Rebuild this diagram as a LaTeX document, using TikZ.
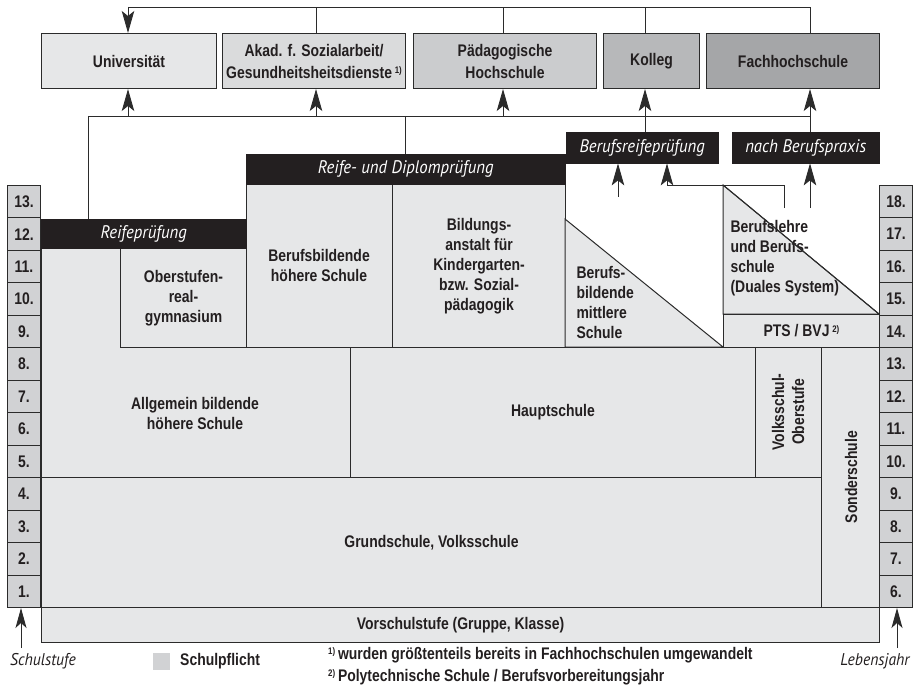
\documentclass[tikz,border=0pt]{standalone}
\usepackage{fontspec}
\setmainfont{Liberation Sans}[FakeStretch=0.83]
\newfontfamily\itfont{PT Sans}[FakeStretch=0.92]
\usetikzlibrary{arrows.meta}
\definecolor{mainfill}{HTML}{E6E7E8}
\definecolor{numfill}{HTML}{D1D2D4}
\definecolor{akadfill}{HTML}{DADBDC}
\definecolor{paedfill}{HTML}{CBCCCE}
\definecolor{kollfill}{HTML}{B7B8BA}
\definecolor{fhfill}{HTML}{A5A6A8}
\definecolor{barblack}{HTML}{231F20}
\definecolor{linec}{HTML}{2B2B2B}
\definecolor{textc}{HTML}{231F20}
\newcommand\fnm[1]{\raisebox{0.55ex}{\fontsize{9.5}{10}\selectfont #1}}
\begin{document}
\begin{tikzpicture}[x=1pt,y=-1pt,
  txt/.style={font=\bfseries\fontsize{16.8}{20}\selectfont, align=center, text=textc},
  box/.style={txt, draw=linec, line width=1pt, fill=mainfill, inner sep=0pt, anchor=north west},
  topbox/.style={box, font=\bfseries\fontsize{16.8}{22}\selectfont},
  num/.style={box, fill=numfill, minimum width=33pt, minimum height=32.46pt},
  bar/.style={fill=barblack, draw=barblack, text=white, font=\itfont\itshape\fontsize{18.2}{20}\selectfont, inner sep=0pt, anchor=north west},
  conn/.style={draw=linec, line width=0.9pt},
  arr/.style={conn, -{Stealth[length=22pt,width=12.5pt,inset=5pt]}},
  sarr/.style={conn, -{Stealth[length=20pt,width=11pt,inset=5pt]}},
  lbl/.style={font=\itfont\itshape\fontsize{17}{20}\selectfont, text=textc},
  region/.style={draw=linec, line width=1pt, fill=mainfill}]
\useasboundingbox (0,0) rectangle (923,695);

% ---- top boxes ----
\node[topbox, minimum width=175pt, minimum height=55pt] (uni) at (41,33) {Universität};
\node[topbox, fill=akadfill, minimum width=183pt, minimum height=55pt] (akad) at (222,33) {Akad. f. Sozialarbeit/\\Gesundheitsheitsdienste\,\fnm{1)}};
\node[topbox, fill=paedfill, minimum width=183pt, minimum height=55pt] (paed) at (413,33) {Pädagogische\\Hochschule};
\node[topbox, fill=kollfill, minimum width=96pt, minimum height=55pt] (koll) at (603,33) {Kolleg};
\node[topbox, fill=fhfill, minimum width=173pt, minimum height=55pt] (fh) at (706,33) {Fachhochschule};

% ---- main blocks ----
\draw[region] (41,248) -- (120,248) -- (120,347) -- (350,347) -- (350,477) -- (41,477) -- cycle;
\node[txt] (ahs) at (195,413) {Allgemein bildende\\höhere Schule};
\node[box, minimum width=126pt, minimum height=99pt] (org) at (120,248) {Oberstufen-\\real-\\gymnasium};
\node[box, minimum width=146pt, minimum height=163pt] (bhs) at (246,184) {};
\node[txt] (bhst) at (319,265.5) {Berufsbildende\\höhere Schule};
\node[box, minimum width=173pt, minimum height=163pt] (bafep) at (392,184) {Bildungs-\\anstalt für\\Kindergarten-\\bzw. Sozial-\\pädagogik};
\draw[region] (565,219) -- (723,347) -- (565,347) -- cycle;
\node[txt, align=left, anchor=west] (bms) at (573,302) {Berufs-\\bildende\\mittlere\\Schule};
\draw[region] (723,185) -- (879,314) -- (723,314) -- cycle;
\node[txt, align=left, anchor=west] (lehre) at (727,258) {Berufslehre\\und Berufs-\\schule\\(Duales System)};
\draw[linec, line width=1pt] (723,185) -- (879,314);
\node[box, minimum width=156pt, minimum height=33pt] (pts) at (723,314) {PTS / BVJ\,\fnm{2)}};
\node[box, minimum width=405pt, minimum height=130pt] (hs) at (350,347) {Hauptschule};
\node[box, minimum width=66pt, minimum height=130pt] (vso) at (755,347) {};
\node[txt, rotate=90] (vsot) at (788,412) {Volksschul-\\Oberstufe};
\node[box, minimum width=58pt, minimum height=260pt] (sonder) at (821,347) {};
\node[txt, rotate=90] (sondert) at (851,477) {Sonderschule};
\node[box, minimum width=780pt, minimum height=130pt] (gs) at (41,477) {Grundschule, Volksschule};
\node[box, minimum width=838pt, minimum height=35pt] (vor) at (41,607) {Vorschulstufe (Gruppe, Klasse)};

% ---- number columns ----
\foreach \i in {1,...,13}{
  \pgfmathsetmacro\yt{607-\i*422/13}
  \pgfmathtruncatemacro\j{\i+5}
  \node[num] (l\i) at (7,\yt) {\i.};
  \node[num] (r\i) at (879,\yt) {\j.};
}

% ---- black bars ----
\node[bar, minimum width=205pt, minimum height=29pt] (reife) at (41,219) {Reifeprüfung};
\node[bar, minimum width=319pt, minimum height=30pt] (rdp) at (246,154) {Reife- und Diplomprüfung};
\node[bar, minimum width=152pt, minimum height=31pt] (brp) at (566,132) {Berufsreifeprüfung};
\node[bar, minimum width=147pt, minimum height=31pt] (nbp) at (732,132) {nach Berufspraxis};

% ---- connector coordinates ----
\coordinate (ytop) at (0,7);
\coordinate (ymid) at (0,116);
\coordinate (xa) at (88,0);
\coordinate (xu) at (128,0);
\coordinate (xak) at (316,0);
\coordinate (xr) at (405,0);
\coordinate (xp) at (503,0);
\coordinate (xk) at (645,0);
\coordinate (xf) at (810,0);

% top line
\draw[conn] (xu |- ytop) -- (xf |- ytop);
\draw[arr] (xu |- ytop) -- (uni.north -| xu);
\draw[conn] (akad.north -| xak) -- (xak |- ytop);
\draw[conn] (paed.north -| xp) -- (xp |- ytop);
\draw[conn] (koll.north -| xk) -- (xk |- ytop);
\draw[conn] (fh.north -| xf) -- (xf |- ytop);

% middle line
\draw[conn] (xa |- ymid) -- (xf |- ymid);
\draw[conn] (xa |- ymid) -- (reife.north -| xa);
\draw[conn] (xr |- ymid) -- (rdp.north -| xr);
\draw[conn] (xk |- ymid) -- (brp.north -| xk);
\draw[conn] (xf |- ymid) -- (nbp.north -| xf);
\draw[arr] (xu |- ymid) -- (uni.south -| xu);
\draw[arr] (xak |- ymid) -- (akad.south -| xak);
\draw[arr] (xp |- ymid) -- (paed.south -| xp);
\draw[arr] (xk |- ymid) -- (koll.south -| xk);
\draw[arr] (xf |- ymid) -- (fh.south -| xf);

% arrows from vocational schools
\coordinate (bmsout) at (618,197);
\coordinate (lehreA) at (784,208);
\coordinate (bend) at (667,185);
\coordinate (lehreB) at (810,208);
\draw[arr] (bmsout) -- (brp.south -| bmsout);
\draw[arr] (lehreA) |- (bend) -- (brp.south -| bend);
\draw[arr] (lehreB) -- (nbp.south -| lehreB);

% ---- legend ----
\node[lbl] (sst) at (43,661) {Schulstufe};
\node[lbl] (lbj) at (875,661) {Lebensjahr};
\coordinate (sstA) at (21,648);
\coordinate (lbjA) at (897,648);
\draw[sarr] (sstA) -- (sstA |- l1.south);
\draw[sarr] (lbjA) -- (lbjA |- r1.south);
\node[fill=numfill, minimum width=17pt, minimum height=17pt, inner sep=0pt] (sq) at (161.5,661.5) {};
\node[txt, anchor=west, inner sep=0pt] (spf) at (180,661) {Schulpflicht};
\node[txt, anchor=west, inner sep=0pt] (fn1) at (328,655) {\fnm{1)}\,wurden größtenteils bereits in Fachhochschulen umgewandelt};
\node[txt, anchor=west, inner sep=0pt] (fn2) at (328,677) {\fnm{2)}\,Polytechnische Schule / Berufsvorbereitungsjahr};
\end{tikzpicture}
\end{document}
